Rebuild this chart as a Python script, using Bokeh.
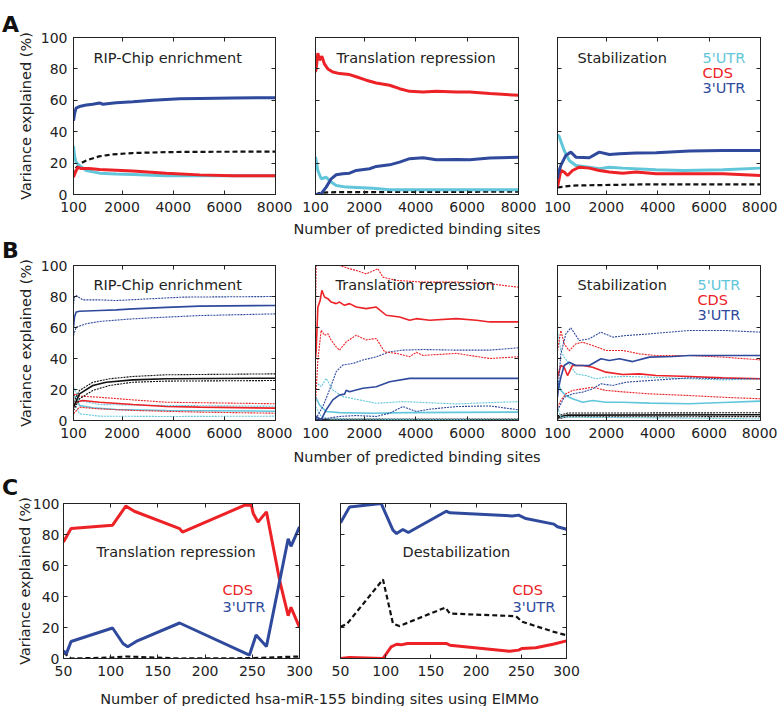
from bokeh.plotting import figure
from bokeh.models import LinearAxis, FixedTicker, Label, Range1d, Div
from bokeh.layouts import row, column
from bokeh.embed import file_html
from bokeh.resources import INLINE

FONT = "DejaVu Sans"
TXT = "#222222"
FS = "14.5px"
TFS = "14px"
CYAN = "#62C6DA"
RED = "#EC2227"
BLUE = "#2F4A9C"
BLACK = "#111111"

XTICKS_AB = [100, 2000, 4000, 6000, 8000]
XTICKS_C = [50, 100, 150, 200, 250, 300]
YTICKS = [0, 20, 40, 60, 80, 100]

# ---------------- Row A data ----------------
a1_utr3_x = [100, 150, 200, 330, 600, 850, 1120, 1250, 1500, 1770, 2420, 3200, 4250, 5030, 6330, 8000]
a1_utr3_y = [47, 52, 55, 56, 57, 57.5, 58.3, 57.5, 58, 58.5, 59, 60, 61, 61.2, 61.5, 61.7]
a1_all_x = [100, 200, 400, 600, 1100, 1600, 2400, 3700, 5000, 8000]
a1_all_y = [12, 17, 20, 21.7, 24.3, 25.5, 26.4, 27, 27.2, 27.3]
a1_cds_x = [100, 170, 270, 400, 700, 1120, 1770, 2420, 3720, 5030, 6330, 8000]
a1_cds_y = [11, 14, 17.4, 16.5, 16.5, 16, 15.5, 15, 13.5, 12.5, 12, 12]
a1_utr5_x = [100, 150, 200, 330, 600, 1120, 1770, 2420, 3720, 5030, 8000]
a1_utr5_y = [31, 24, 20.6, 18.5, 15.3, 13.6, 13, 12.8, 12, 11.9, 11.9]

a2_cds_x = [100, 126, 191, 256, 347, 451, 581, 775, 1035, 1425, 1685, 2074, 2464, 2984, 3373, 3763, 4283, 4802, 5582, 6101, 6881, 8000]
a2_cds_y = [78, 80, 90, 85.5, 88, 83, 80, 78, 77, 76.4, 75, 72.8, 71, 69.6, 67.4, 65.7, 65.3, 65.7, 65.3, 65.3, 64.3, 63.2]
a2_utr3_x = [100, 126, 321, 516, 711, 905, 1165, 1425, 1685, 2204, 2464, 2984, 3373, 3763, 4283, 4802, 5582, 6101, 6881, 8000]
a2_utr3_y = [0, 0, 0.5, 4.7, 10, 12.6, 13.2, 13.6, 15.3, 16.4, 17.9, 18.9, 20.6, 22.8, 23.4, 22.1, 22.3, 22.1, 23.2, 23.8]
a2_utr5_x = [100, 191, 321, 516, 711, 905, 1295, 2334, 2984, 8000]
a2_utr5_y = [24, 15.3, 10, 11, 7.9, 5.7, 4.7, 4, 3, 3]
a2_all_x = [100, 300, 1000, 8000]
a2_all_y = [0, 1.2, 1.5, 1.8]

a3_utr5_x = [100, 165, 360, 555, 816, 1336, 1726, 2117, 2637, 3938, 4979, 6540, 8000]
a3_utr5_y = [38, 37, 28, 21.7, 18.5, 17.4, 16.4, 17.4, 16.8, 15.7, 15.3, 15.7, 16.8]
a3_cds_x = [100, 126, 230, 360, 490, 685, 946, 1336, 1726, 2117, 2637, 3157, 3938, 5000, 6540, 8000]
a3_cds_y = [5, 6.8, 15.3, 14.3, 12.1, 15.3, 17.4, 16.8, 15.3, 14.3, 13.6, 14.3, 13.2, 13.2, 13.2, 12.1]
a3_utr3_x = [100, 126, 230, 425, 620, 816, 1336, 1726, 2117, 2507, 3157, 3938, 5239, 6540, 8000]
a3_utr3_y = [10, 13.2, 18.5, 24.9, 27, 23.8, 23.4, 27, 25.5, 25.9, 26.4, 26.6, 27.7, 28.1, 28.1]
a3_all_x = [100, 685, 3287, 8000]
a3_all_y = [4.5, 5.7, 6.4, 6.4]

# ---------------- Row B data (mean, upper, lower) ----------------
b1_utr3_x = [100, 139, 204, 335, 1117, 1769, 2421, 3725, 5029, 8000]
b1_utr3_y = [60, 66.7, 70, 70.5, 71, 71.4, 72, 73, 73.8, 74.2]
b1_utr3_hi_x = [100, 139, 204, 465, 1117, 1769, 3073, 4377, 8000]
b1_utr3_hi_y = [75, 79.6, 80.6, 77.8, 77.8, 77.4, 78.5, 79.6, 80]
b1_utr3_lo_x = [100, 204, 596, 1117, 2421, 3725, 5029, 8000]
b1_utr3_lo_y = [54.8, 60.2, 62.4, 63.9, 65.6, 66.7, 67.7, 68.8]
b1_all_x = [100, 335, 856, 1378, 2421, 3725, 8000]
b1_all_y = [8.6, 17.2, 22.6, 24.7, 26.2, 26.9, 27.3]
b1_all_hi_x = [100, 335, 856, 1508, 2421, 3725, 8000]
b1_all_hi_y = [11.8, 19.4, 24.7, 26.9, 28.4, 29.5, 30.1]
b1_all_lo_x = [100, 335, 856, 1508, 2421, 3725, 8000]
b1_all_lo_y = [6.5, 14, 19.4, 22.6, 24.7, 25.4, 25.8]
b1_cds_x = [100, 204, 465, 1117, 2421, 3725, 5029, 8000]
b1_cds_y = [8.6, 11.8, 12.9, 11.8, 10.3, 9, 8.6, 8]
b1_cds_hi_x = [100, 139, 335, 1117, 2421, 3725, 8000]
b1_cds_hi_y = [14, 17.2, 15.7, 15, 13.3, 11.8, 10.8]
b1_cds_lo_x = [100, 335, 1117, 2421, 5029, 8000]
b1_cds_lo_y = [4.3, 8.6, 7.5, 6.5, 5.4, 4.7]
b1_utr5_x = [100, 335, 856, 1769, 3725, 8000]
b1_utr5_y = [17.2, 9.7, 8.2, 7.1, 6.5, 6]
b1_utr5_hi_x = [100, 335, 1117, 3725, 8000]
b1_utr5_hi_y = [21.5, 12.9, 10.3, 9.7, 9.2]
b1_utr5_lo_x = [100, 335, 1117, 3725, 8000]
b1_utr5_lo_y = [12.9, 4.3, 2.8, 2.6, 2.8]

b2_cds_x = [100, 126, 191, 282, 347, 451, 581, 711, 905, 1035, 1230, 1425, 1685, 2074, 2464, 2854, 3373, 3763, 4023, 4543, 5582, 6361, 6881, 8000]
b2_cds_y = [40, 45, 73, 77.5, 84, 79.7, 78.6, 76.4, 75.4, 76.4, 74.3, 75.4, 73.2, 72.2, 73.2, 67.9, 66.8, 64.7, 65.7, 64.7, 65.7, 64.7, 63.6, 63.6]
b2_cds_hi_x = [100, 126, 1035, 1425, 1685, 2074, 2529, 2724, 3244, 4283, 5582, 6881, 8000]
b2_cds_hi_y = [70, 100, 100, 97.9, 96.8, 94.6, 97.9, 92.5, 90.4, 89.3, 89.3, 88.2, 86]
b2_cds_lo_x = [100, 126, 191, 321, 451, 581, 711, 905, 1035, 1295, 1685, 2074, 2464, 2789, 3244, 3763, 4023, 4283, 5582, 6881, 8000]
b2_cds_lo_y = [10, 19.7, 39, 58.2, 55, 56, 51.8, 47.5, 45.4, 50.7, 55, 52, 52.9, 44.3, 43.3, 41.1, 44, 42, 43.3, 40, 41.1]
b2_utr3_x = [100, 126, 321, 516, 775, 1035, 1230, 1295, 1425, 1945, 2464, 2984, 3763, 8000]
b2_utr3_y = [3, 2.6, 0.5, 6.9, 13.3, 16.5, 17, 19.5, 18.6, 20.8, 21.8, 25, 27.2, 27.2]
b2_utr3_hi_x = [100, 126, 386, 646, 905, 1165, 1555, 1945, 2464, 2984, 3503, 4283, 5582, 6881, 8000]
b2_utr3_hi_y = [1, 1.5, 9, 19.7, 31.5, 35.8, 36.8, 39, 41.1, 44.3, 45.4, 45.8, 45.4, 45.4, 46.9]
b2_utr3_lo_x = [100, 386, 1035, 1685, 2464, 2984, 3503, 4023, 4543, 5582, 6881, 8000]
b2_utr3_lo_y = [0.4, 1, 2.6, 3.2, 2.6, 4.7, 9, 5.8, 7.3, 9, 9.4, 6.9]
b2_utr5_x = [100, 256, 516, 1035, 2334, 3633, 8000]
b2_utr5_y = [15.4, 10, 5.8, 5.1, 4.7, 5.1, 5.4]
b2_utr5_hi_x = [100, 321, 516, 775, 1165, 1685, 2464, 3503, 5582, 8000]
b2_utr5_hi_y = [25, 21.8, 27.2, 19.7, 15.4, 13.7, 11.1, 12.2, 10.7, 12.2]
b2_utr5_lo_x = [100, 321, 646, 8000]
b2_utr5_lo_y = [9, 2.6, 0.9, 0.4]
b2_all_x = [100, 8000]
b2_all_y = [0.3, 0.5]
b2_all_hi_x = [100, 8000]
b2_all_hi_y = [0.9, 1.0]
b2_all_lo_x = [100, 8000]
b2_all_lo_y = [0.1, 0.1]

b3_utr3_x = [100, 126, 230, 360, 555, 816, 1076, 1336, 1791, 2117, 2507, 3027, 3678, 4588, 5239, 6540, 8000]
b3_utr3_y = [15, 19.4, 28, 35.5, 37.6, 35.5, 35.5, 35.5, 39.8, 38.7, 39.8, 38, 40.9, 41.3, 41.9, 41.9, 41.9]
b3_utr3_hi_x = [100, 230, 425, 620, 946, 1336, 1791, 2247, 2767, 3678, 5239, 6540, 8000]
b3_utr3_hi_y = [15, 43, 55.9, 59.8, 51.6, 52.7, 57, 53.8, 54.8, 55.9, 58.1, 58.1, 57]
b3_utr3_lo_x = [100, 360, 685, 1076, 1466, 1791, 2247, 2767, 3678, 5239, 6540, 8000]
b3_utr3_lo_y = [6.5, 15, 17.2, 18.3, 20.4, 23.7, 22.6, 24.7, 25.8, 27.5, 26.9, 26.9]
b3_cds_x = [100, 230, 360, 490, 685, 1076, 1466, 1986, 2637, 3287, 3938, 5239, 6540, 8000]
b3_cds_y = [28, 35.5, 34.4, 29, 35.5, 35.5, 34.4, 31.2, 29.7, 30.1, 29, 28.4, 27.5, 26.9]
b3_cds_hi_x = [100, 230, 360, 555, 816, 1076, 1466, 1986, 2637, 3287, 3938, 5239, 6540, 8000]
b3_cds_hi_y = [45, 58, 49.5, 45, 49.5, 50.5, 48.4, 45.2, 45.2, 43, 41.9, 41.9, 40.9, 39.1]
b3_cds_lo_x = [100, 230, 425, 685, 1076, 1466, 1986, 2767, 3678, 5239, 6540, 8000]
b3_cds_lo_y = [8.6, 12.9, 17.2, 19.4, 20.4, 21.5, 19.4, 18.3, 17.2, 16.1, 15, 14]
b3_utr5_x = [100, 230, 425, 685, 1076, 1466, 1986, 2637, 3678, 5239, 6540, 8000]
b3_utr5_y = [25.8, 19.4, 16.1, 14, 11.8, 12.9, 11.8, 11.8, 11.2, 10.8, 11.6, 12.5]
b3_utr5_hi_x = [100, 230, 360, 555, 816, 1206, 1596, 1986, 2767, 3678, 5239, 6540, 8000]
b3_utr5_hi_y = [58, 45, 40.9, 36.6, 30.1, 29, 26.9, 28, 28.4, 28, 26.9, 26.2, 26.9]
b3_utr5_lo_x = [100, 230, 8000]
b3_utr5_lo_y = [8.6, 2.2, 1.1]
b3_all_x = [100, 500, 8000]
b3_all_y = [2, 3.5, 3.7]
b3_all_hi_x = [100, 500, 8000]
b3_all_hi_y = [3, 4.8, 5]
b3_all_lo_x = [100, 500, 8000]
b3_all_lo_y = [1, 2.4, 2.5]

# ---------------- Row C data ----------------
c1_cds_x = [50, 58, 102, 116, 125, 173, 176, 242, 249, 251, 256, 265, 279, 288, 291, 300]
c1_cds_y = [75.2, 83.8, 86, 98.3, 95, 83.8, 81.6, 98.9, 98.9, 93.5, 88, 94.6, 50.3, 27.6, 33, 20]
c1_utr3_x = [50, 53, 58, 102, 113, 118, 127, 173, 247, 254, 265, 288, 291, 300]
c1_utr3_y = [5, 3, 11, 19.7, 9.7, 7.6, 11, 22.9, 2.2, 15.1, 7.8, 77.3, 72.4, 84.9]
c1_all_x = [50, 58, 102, 116, 173, 247, 300]
c1_all_y = [3.9, 0, 0.6, 1.3, 0, 0.2, 1.3]

c2_utr3_x = [50, 60, 95, 108, 112, 119, 125, 167, 171, 240, 247, 255, 286, 290, 300]
c2_utr3_y = [87.5, 97.8, 100, 82.8, 80.6, 83.2, 81.3, 95, 94, 92, 92.5, 90.3, 86.7, 85, 83.4]
c2_all_x = [50, 57, 97, 108, 115, 166, 171, 244, 251, 286, 300]
c2_all_y = [20.4, 22.2, 51, 22.6, 20.9, 32.9, 29, 27.3, 23.7, 17.2, 15]
c2_cds_x = [50, 60, 97, 106, 112, 117, 124, 167, 171, 237, 247, 251, 266, 285, 300]
c2_cds_y = [0, 0.6, 0, 7.5, 9.2, 8.8, 9.7, 9.7, 8.6, 4.7, 5.4, 6.5, 6.9, 9.2, 11.4]


def style_axis(ax, ticks, labels=True, standoff=6):
    ax.ticker = FixedTicker(ticks=ticks)
    ax.major_tick_in = 4
    ax.major_tick_out = 0
    ax.minor_tick_line_color = None
    ax.axis_line_color = TXT
    ax.major_tick_line_color = TXT
    ax.major_label_text_font = FONT
    ax.major_label_text_color = TXT
    ax.major_label_standoff = standoff
    ax.axis_label_text_font = FONT
    ax.axis_label_text_font_size = FS
    ax.axis_label_text_font_style = "normal"
    ax.axis_label_text_color = TXT
    if labels:
        ax.major_label_text_font_size = TFS
    else:
        ax.major_label_text_font_size = "0px"
        ax.major_label_overrides = {t: "" for t in ticks}
        ax.major_label_standoff = 0


def panel(xr, xticks, fw, fh, bl, br, bt, bb, ylab_ticks=False, ylabel=None,
          xlabel=None, ystand=6, ylabstand=4, xstand=7, xlabstand=6):
    p = figure(frame_width=fw, frame_height=fh, x_range=Range1d(*xr), y_range=Range1d(0, 100),
               min_border_left=bl, min_border_right=br, min_border_top=bt, min_border_bottom=bb,
               output_backend="svg", toolbar_location=None)
    p.xgrid.visible = False
    p.ygrid.visible = False
    p.outline_line_color = TXT
    p.outline_line_width = 1
    p.background_fill_color = "white"
    p.border_fill_color = None
    style_axis(p.xaxis[0], xticks, True, xstand)
    style_axis(p.yaxis[0], YTICKS, ylab_ticks, ystand)
    if ylabel:
        p.yaxis[0].axis_label = ylabel
        p.yaxis[0].axis_label_standoff = ylabstand
    if xlabel:
        p.xaxis[0].axis_label = xlabel
        p.xaxis[0].axis_label_standoff = xlabstand
    top = LinearAxis()
    style_axis(top, xticks, False)
    p.add_layout(top, "above")
    right = LinearAxis()
    style_axis(right, YTICKS, False)
    p.add_layout(right, "right")
    return p


def txt(p, x, y, s, color=TXT, size=FS):
    p.add_layout(Label(x=x, y=y, x_units="screen", y_units="screen", text=s,
                       text_font=FONT, text_font_size=size, text_color=color,
                       text_baseline="middle", text_align="left"))


def plab(s, top, w):
    return Div(text=f'<div style="position:relative;left:2px;top:{top}px;line-height:22px;'
                    f'font-family:\'DejaVu Sans\';font-size:22px;font-weight:bold;color:#111111;'
                    f'white-space:nowrap;overflow:visible">{s}</div>',
               width=w, height=40, margin=(0, 0, 0, 0), styles={"overflow": "visible"})


YL = "Variance explained (%)"
XL = "Number of predicted binding sites"
XR = (100, 8000)

# ---- Row A ----
a1 = panel(XR, XTICKS_AB, 202, 157, 0, 17, 37, 47, True, YL)
a2 = panel(XR, XTICKS_AB, 203, 157, 23, 23, 37, 47, xlabel=XL, xlabstand=6)
a3 = panel(XR, XTICKS_AB, 203, 157, 16, 17, 37, 47)

W = 3
a1.line(a1_utr3_x, a1_utr3_y, color=BLUE, line_width=W)
a1.line(a1_all_x, a1_all_y, color=BLACK, line_width=2.2, line_dash="5 3")
a1.line(a1_utr5_x, a1_utr5_y, color=CYAN, line_width=W)
a1.line(a1_cds_x, a1_cds_y, color=RED, line_width=W)
txt(a1, 20, 137, "RIP-Chip enrichment")

a2.line(a2_all_x, a2_all_y, color=BLACK, line_width=2.2, line_dash="5 3")
a2.line(a2_utr5_x, a2_utr5_y, color=CYAN, line_width=W)
a2.line(a2_utr3_x, a2_utr3_y, color=BLUE, line_width=W)
a2.line(a2_cds_x, a2_cds_y, color=RED, line_width=W)
txt(a2, 21, 137, "Translation repression")

a3.line(a3_all_x, a3_all_y, color=BLACK, line_width=2.2, line_dash="5 3")
a3.line(a3_utr5_x, a3_utr5_y, color=CYAN, line_width=W)
a3.line(a3_cds_x, a3_cds_y, color=RED, line_width=W)
a3.line(a3_utr3_x, a3_utr3_y, color=BLUE, line_width=W)
txt(a3, 20, 137, "Stabilization")
txt(a3, 145, 137, "5'UTR", CYAN)
txt(a3, 145, 122, "CDS", RED)
txt(a3, 145, 107, "3'UTR", BLUE)

# ---- Row B ----
b1 = panel(XR, XTICKS_AB, 202, 155, 0, 17, 24, 58, True, YL)
b2 = panel(XR, XTICKS_AB, 203, 155, 23, 23, 24, 58, xlabel=XL, xlabstand=8)
b3 = panel(XR, XTICKS_AB, 203, 155, 16, 17, 24, 58)

MW = 1.6
DW = 1.1
DD = "2 1"


def band(p, x, y, xh, yh, xl, yl, color):
    p.line(xh, yh, color=color, line_width=DW, line_dash=DD)
    p.line(xl, yl, color=color, line_width=DW, line_dash=DD)
    p.line(x, y, color=color, line_width=MW)


band(b1, b1_utr5_x, b1_utr5_y, b1_utr5_hi_x, b1_utr5_hi_y, b1_utr5_lo_x, b1_utr5_lo_y, CYAN)
band(b1, b1_cds_x, b1_cds_y, b1_cds_hi_x, b1_cds_hi_y, b1_cds_lo_x, b1_cds_lo_y, RED)
band(b1, b1_all_x, b1_all_y, b1_all_hi_x, b1_all_hi_y, b1_all_lo_x, b1_all_lo_y, BLACK)
band(b1, b1_utr3_x, b1_utr3_y, b1_utr3_hi_x, b1_utr3_hi_y, b1_utr3_lo_x, b1_utr3_lo_y, BLUE)
txt(b1, 20, 136, "RIP-Chip enrichment")

band(b2, b2_all_x, b2_all_y, b2_all_hi_x, b2_all_hi_y, b2_all_lo_x, b2_all_lo_y, BLACK)
band(b2, b2_utr5_x, b2_utr5_y, b2_utr5_hi_x, b2_utr5_hi_y, b2_utr5_lo_x, b2_utr5_lo_y, CYAN)
band(b2, b2_utr3_x, b2_utr3_y, b2_utr3_hi_x, b2_utr3_hi_y, b2_utr3_lo_x, b2_utr3_lo_y, BLUE)
band(b2, b2_cds_x, b2_cds_y, b2_cds_hi_x, b2_cds_hi_y, b2_cds_lo_x, b2_cds_lo_y, RED)
txt(b2, 20, 136, "Translation repression")

band(b3, b3_all_x, b3_all_y, b3_all_hi_x, b3_all_hi_y, b3_all_lo_x, b3_all_lo_y, BLACK)
band(b3, b3_utr5_x, b3_utr5_y, b3_utr5_hi_x, b3_utr5_hi_y, b3_utr5_lo_x, b3_utr5_lo_y, CYAN)
band(b3, b3_cds_x, b3_cds_y, b3_cds_hi_x, b3_cds_hi_y, b3_cds_lo_x, b3_cds_lo_y, RED)
band(b3, b3_utr3_x, b3_utr3_y, b3_utr3_hi_x, b3_utr3_hi_y, b3_utr3_lo_x, b3_utr3_lo_y, BLUE)
txt(b3, 20, 136, "Stabilization")
txt(b3, 140, 136, "5'UTR", CYAN)
txt(b3, 140, 121, "CDS", RED)
txt(b3, 140, 106, "3'UTR", BLUE)

# ---- Row C ----
c1 = panel((50, 300), XTICKS_C, 236, 155, 0, 20, 25, 25, True, YL, ystand=4, ylabstand=-3)
c2 = panel((50, 300), XTICKS_C, 226, 155, 21, 23, 25, 25)

c1.line(c1_all_x, c1_all_y, color=BLACK, line_width=2.2, line_dash="5 3")
c1.line(c1_cds_x, c1_cds_y, color=RED, line_width=W)
c1.line(c1_utr3_x, c1_utr3_y, color=BLUE, line_width=W)
txt(c1, 33, 107, "Translation repression")
txt(c1, 159, 69, "CDS", RED)
txt(c1, 159, 52, "3'UTR", BLUE)

c2.line(c2_all_x, c2_all_y, color=BLACK, line_width=2.2, line_dash="5 3")
c2.line(c2_cds_x, c2_cds_y, color=RED, line_width=W)
c2.line(c2_utr3_x, c2_utr3_y, color=BLUE, line_width=W)
txt(c2, 62, 107, "Destabilization")
txt(c2, 172, 69, "CDS", RED)
txt(c2, 172, 52, "3'UTR", BLUE)

xlab_c = Div(text='<div style="position:relative;top:9px;width:639px;line-height:14px;text-align:center;'
                  'font-family:\'DejaVu Sans\';font-size:14.5px;color:#222222;white-space:nowrap">'
                  'Number of predicted hsa-miR-155 binding sites using ElMMo</div>',
             width=639, height=23, margin=(0, 0, 0, 0))

layout = column(row(plab("A", 14, 14), a1, a2, a3),
                row(plab("B", -1, 14), b1, b2, b3),
                row(plab("C", -1, 13), c1, c2),
                xlab_c)

open("out.html", "w").write(file_html(layout, INLINE))
